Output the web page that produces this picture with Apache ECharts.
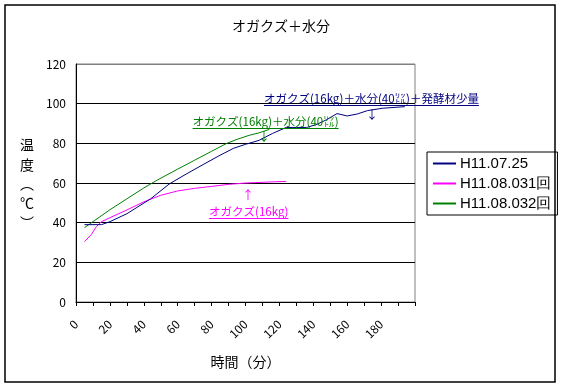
<!DOCTYPE html>
<html>
<head>
<meta charset="utf-8">
<script src="https://cdn.jsdelivr.net/npm/echarts@6/dist/echarts.min.js"></script>
<style>
html,body{margin:0;padding:0;background:#fff;}
#chart{width:562px;height:388px;}
</style>
</head>
<body>
<div id="chart"></div>
<script>
// ---- data ----
const chartTitle = 'オガクズ＋水分';
const xAxisName = '時間（分）';
const yAxisNameChars = ['温', '度', '︵', '℃', '︶'];
const seriesNames = ['H11.07.25', 'H11.08.031回', 'H11.08.032回'];
const seriesColors = ['#000080', '#FF00FF', '#008000'];

const blueData = [[5,39],[15,39],[20,40.5],[30,44.5],[44,52],[55,59.5],[65,64.5],[75,69.3],[85,74],[93,77.5],[100,79.5],[108,81.5],[116,85],[124,88],[130,88],[136,88],[142,89.5],[148,92],[154,95],[160,93.8],[166,94.8],[172,96.5],[181,97.7],[194,98.5]];
const magentaData = [[5,30.4],[9,34],[12,38],[15,40.5],[20,42.5],[30,46.4],[40,50.5],[50,53.8],[60,56],[70,57.3],[80,58.3],[90,59.3],[100,60],[106,60.2],[114,60.5],[124,60.8]];
const greenData = [[5,37.5],[10,40.5],[20,46.5],[30,52],[40,57.5],[48,61.5],[60,67],[70,71.5],[80,76],[89,80],[95,82],[102,84],[108,85.3],[114,87]];

const xTickLabels = [0,20,40,60,80,100,120,140,160,180];
const yTickLabels = [0,20,40,60,80,100,120];

// annotations: text, anchor value (left x, center y), colour index
const annoTexts = ['オガクズ(16kg)＋水分(40㍑)＋発酵材少量', 'オガクズ(16kg)＋水分(40㍑)', 'オガクズ(16kg)'];
const annoX = [110.9, 68.8, 78.5];
const annoY = [102.4, 90.9, 45.5];
const annoColor = [0, 2, 1];
const arrowTexts = ['↓', '↓', '↑'];
const arrowX = [174.6, 110.9, 101.5];
const arrowY = [94.6, 83.5, 53.5];

// ---- chart ----
const FONT = '"Noto Sans CJK JP", "Liberation Sans", sans-serif';
const chart = echarts.init(document.getElementById('chart'), null, {renderer:'canvas'});
const dataSets = [blueData, magentaData, greenData];

const option = {
  animation: false,
  backgroundColor: '#fff',
  title: {
    text: chartTitle, left: 'center', top: 14,
    textStyle: {fontFamily: FONT, fontSize: 14, fontWeight: 'normal', color: '#000'}
  },
  grid: {left: 76, right: 147, top: 64, bottom: 86, show: true, borderColor: '#808080', borderWidth: 1},
  legend: {
    orient: 'vertical', left: 427, top: 152,
    padding: [4, 6, 4, 6],
    itemGap: 5, itemWidth: 23, itemHeight: 2,
    borderColor: '#000', borderWidth: 1,
    icon: 'rect',
    textStyle: {fontFamily: '"Liberation Sans", Arial, sans-serif', fontSize: 15, color: '#000', padding: [0,0,0,-1]},
    data: seriesNames
  },
  xAxis: {
    type: 'value', min: 0, max: 200, interval: 10,
    name: xAxisName, nameLocation: 'middle', nameGap: 53,
    nameTextStyle: {fontFamily: FONT, fontSize: 14, color: '#000'},
    axisLine: {show: true, lineStyle: {color: '#000', width: 1}},
    axisTick: {show: true, length: 4, lineStyle: {color: '#000'}},
    splitLine: {show: false},
    axisLabel: {
      rotate: 45, margin: 20, color: '#000', fontFamily: FONT, fontSize: 12,
      formatter: function (v) { return xTickLabels.indexOf(v) >= 0 ? String(v) : ''; }
    }
  },
  yAxis: {
    type: 'value', min: 0, max: 120, interval: 20,
    axisLine: {show: true, lineStyle: {color: '#000', width: 1}},
    axisTick: {show: false},
    splitLine: {show: true, lineStyle: {color: ['#000','#000','#000','#000','#000','#000','#808080'], width: 1}},
    axisLabel: {
      margin: 10, color: '#000', fontFamily: FONT, fontSize: 12,
      formatter: function (v) { return yTickLabels.indexOf(v) >= 0 ? String(v) : ''; }
    }
  },
  series: seriesNames.map(function (n, i) {
    return {
      name: n, type: 'line', data: dataSets[i], showSymbol: false, symbol: 'none',
      lineStyle: {color: seriesColors[i], width: 1}, itemStyle: {color: seriesColors[i]},
      z: 3 - i
    };
  })
};
chart.setOption(option);

// ---- annotations (positioned via the chart's own scales) ----
const mctx = document.createElement('canvas').getContext('2d');
const ANNO_FONT_SIZE = 11.5;
mctx.font = ANNO_FONT_SIZE + 'px ' + FONT;
const graphics = [];
// outer border
graphics.push({type: 'rect', shape: {x: 5, y: 5, width: 550, height: 377}, style: {fill: null, stroke: '#000', lineWidth: 1.5}, silent: true});
// y axis name (vertical)
const yNameTop = 145, yNameStep = 19.3;
yAxisNameChars.forEach(function (c, i) {
  graphics.push({type: 'text', x: 27, y: yNameTop + i * yNameStep, style: {text: c, font: '14px ' + FONT, fill: '#000', align: 'center', verticalAlign: 'middle'}});
});
annoTexts.forEach(function (t, i) {
  const p = chart.convertToPixel({gridIndex: 0}, [annoX[i], annoY[i]]);
  const w = mctx.measureText(t).width;
  const col = seriesColors[annoColor[i]];
  graphics.push({type: 'text', x: p[0], y: p[1], style: {text: t, font: ANNO_FONT_SIZE + 'px ' + FONT, fill: col, align: 'left', verticalAlign: 'middle'}, z: 10});
  graphics.push({type: 'line', shape: {x1: p[0], y1: Math.round(p[1] + 6) + 0.5, x2: p[0] + w, y2: Math.round(p[1] + 6) + 0.5}, style: {stroke: col, lineWidth: 1}, z: 10});
  const a = chart.convertToPixel({gridIndex: 0}, [arrowX[i], arrowY[i]]);
  graphics.push({type: 'text', x: a[0], y: a[1], style: {text: arrowTexts[i], font: '12px ' + FONT, fill: col, align: 'center', verticalAlign: 'middle'}, z: 10});
});
chart.setOption({graphic: graphics});
</script>
</body>
</html>
